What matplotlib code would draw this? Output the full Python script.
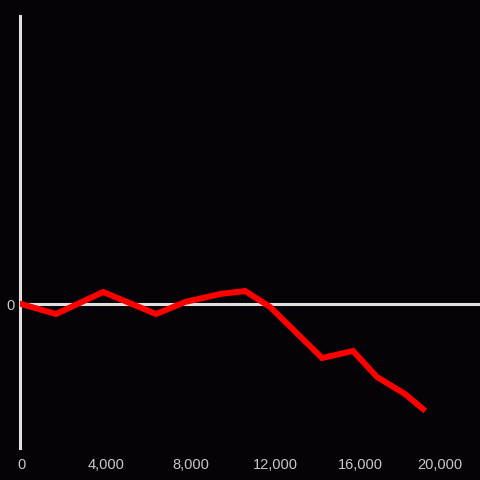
import matplotlib
matplotlib.use("Agg")
import matplotlib.pyplot as plt
from matplotlib.ticker import FuncFormatter
import matplotlib.transforms as mtransforms

# data
x_vals = [0, 1650, 3870, 6370, 7740, 9390, 10570, 11750, 14200, 15660, 16790, 18110, 18960]
y_vals = [0, -10, 12, -10, 2, 10, 13, -3, -54, -47, -73, -90, -105]
x_ticks = [0, 4000, 8000, 12000, 16000, 20000]
y_ticks = [0]

bg = "#050307"
fg = "#c8c8c8"
axis_col = "#e0e0e0"

plt.rcParams['font.family'] = ['Liberation Sans', 'DejaVu Sans']

fig = plt.figure(figsize=(4.8, 4.8), dpi=100, facecolor=bg)
ax = fig.add_axes([20 / 480, 32 / 480, 460 / 480, 432 / 480])
ax.set_facecolor(bg)

ax.axhline(0, color=axis_col, lw=2.2, zorder=1)
ax.plot(x_vals, y_vals, color="#ff0000", lw=4.3, solid_joinstyle="miter", zorder=3)

ax.set_xlim(-50, 21650)
ax.set_ylim(-144, 288)

for s in ["top", "right", "bottom"]:
    ax.spines[s].set_visible(False)
ax.spines["left"].set_color(axis_col)
ax.spines["left"].set_linewidth(2.2)

ax.set_xticks(x_ticks)
ax.set_yticks(y_ticks)
ax.xaxis.set_major_formatter(FuncFormatter(lambda v, p: f"{int(v):,}"))
ax.tick_params(axis="both", length=0, colors=fg, labelsize=10.5)
ax.tick_params(axis="x", pad=7)
ax.tick_params(axis="y", pad=4)

labels = ax.get_xticklabels()
labels[-1].set_transform(labels[-1].get_transform() +
                         mtransforms.ScaledTranslation(-5 / 100, 0, fig.dpi_scale_trans))

fig.savefig("out.png", dpi=100, facecolor=bg)
